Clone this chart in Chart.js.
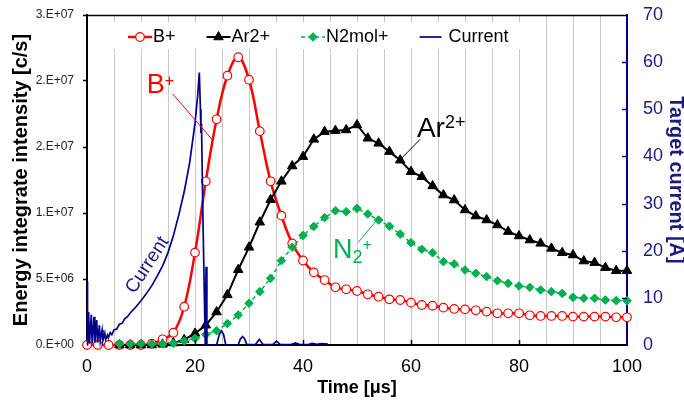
<!DOCTYPE html>
<html><head><meta charset="utf-8">
<script src="https://cdn.jsdelivr.net/npm/chart.js@4.4.1/dist/chart.umd.min.js"></script>
<style>html,body{margin:0;padding:0;background:#fff}canvas{display:block}</style>
</head><body>
<canvas id="c" width="684" height="401"></canvas>
<script>
// ---------- DATA ----------
const times = [0,2,4,6,8,10,12,14,16,18,20,22,24,26,28,30,32,34,36,38,40,42,44,46,48,50,52,54,56,58,60,62,64,66,68,70,72,74,76,78,80,82,84,86,88,90,92,94,96,98,100];
const bPlus = [0,0,0,0,0,0,0.1e6,0.43e6,0.93e6,2.9e6,7.0e6,12.4e6,17.1e6,20.4e6,21.8e6,20.1e6,16.2e6,12.4e6,9.8e6,7.7e6,6.4e6,5.5e6,4.92e6,4.37e6,4.22e6,4.09e6,3.84e6,3.66e6,3.46e6,3.41e6,3.21e6,3.03e6,2.98e6,2.83e6,2.73e6,2.70e6,2.63e6,2.53e6,2.4e6,2.4e6,2.4e6,2.25e6,2.2e6,2.2e6,2.2e6,2.15e6,2.15e6,2.15e6,2.15e6,2.1e6,2.1e6];
const ar2Plus = [null,null,null,0,0,0,0,0.05e6,0.15e6,0.4e6,0.88e6,1.5e6,2.5e6,3.8e6,5.7e6,7.4e6,9.3e6,11.0e6,12.4e6,13.56e6,14.27e6,15.58e6,16.16e6,16.24e6,16.29e6,16.67e6,15.66e6,15.28e6,14.65e6,14.0e6,13.13e6,12.75e6,12.05e6,11.36e6,10.98e6,10.23e6,9.77e6,9.47e6,9.09e6,8.59e6,8.26e6,7.95e6,7.7e6,7.32e6,6.99e6,6.82e6,6.36e6,6.24e6,5.86e6,5.63e6,5.63e6];
const n2molPlus = [null,null,null,0.08e6,0.08e6,0.08e6,0.08e6,0.08e6,0.13e6,0.3e6,0.5e6,0.8e6,1.08e6,1.62e6,2.27e6,3.16e6,4.04e6,5.05e6,6.39e6,7.4e6,8.3e6,8.98e6,9.65e6,10.17e6,10.1e6,10.35e6,9.92e6,9.47e6,9.0e6,8.4e6,7.75e6,7.25e6,6.99e6,6.31e6,6.14e6,5.68e6,5.43e6,5.18e6,4.87e6,4.67e6,4.47e6,4.37e6,4.17e6,4.04e6,3.91e6,3.61e6,3.54e6,3.54e6,3.41e6,3.36e6,3.36e6];
const currentTime = [0,0.05,0.15,0.3,0.45,0.8,0.95,1.3,1.45,1.8,1.95,2.3,2.45,2.8,2.95,3.3,3.45,3.8,3.95,4.3,4.6,5.0,5.5,6.0,6.5,7.0,7.5,8.0,9.0,10,11,12,13,14,15,16,17,18,19,20,20.5,20.8,21.0,21.1,21.2,21.5,21.9,22.05,22.2,22.4,24.0,24.5,24.9,25.3,25.7,28.0,28.4,28.8,29.2,29.6,31.2,31.9,32.6,34.4,35.1,35.8,37.8,38.6,39.4,41.0,41.7,42.5,43.5,44.6];
const currentAmp = [0,13.4,0.2,7.0,0.3,6.4,0.3,6.0,0.5,5.3,0.5,4.2,0.8,3.2,1.0,2.5,1.2,2.1,1.5,2.6,2.2,3.2,3.4,4.4,4.6,5.6,6.0,6.8,8.0,9.4,10.9,12.6,14.6,16.8,19.6,23.2,27.6,32.5,38.6,47.0,53.0,57.8,50.0,45.0,47.0,25.0,0,16.6,0.2,0,0,2.2,3.0,2.2,0,0,1.3,1.8,1.3,0.1,0.1,1.2,0.1,0.1,0.8,0.1,0.1,0.45,0.1,0.1,0.35,0.15,0.3,0.2];
const seriesNames = ['B+','Ar2+','N2mol+','Current'];
const xTickLabels = ['0','20','40','60','80','100'];
const leftTickLabels = ['0.E+00','5.E+06','1.E+07','2.E+07','2.E+07','3.E+07'];
const rightTickLabels = ['0','10','20','30','40','50','60','70'];

// ---------- STYLE / LAYOUT ----------
const FONT = '"Liberation Sans", Arial, sans-serif';
const NAVY = '#00008B';
const NAVY_TEXT = '#1a1a80';
const GREEN = '#00B050';
Chart.defaults.font.family = FONT;

const toXY = (xs, ys) => xs.map((x, i) => ({x: x, y: ys[i]}));
const zeroPad = s => { s.paddingTop = 0; s.paddingBottom = 0; s.paddingLeft = 0; s.paddingRight = 0; };

function drawMarker(ctx, ds, x, y) {
  const r = ds.pointRadius;
  ctx.beginPath();
  if (ds.pointStyle === 'circle') {
    ctx.arc(x, y, r, 0, Math.PI * 2);
  } else if (ds.pointStyle === 'triangle') {
    for (let k = 0; k < 3; k++) {
      const a = k * 2 * Math.PI / 3;
      const px = x + Math.sin(a) * r, py = y - Math.cos(a) * r;
      k ? ctx.lineTo(px, py) : ctx.moveTo(px, py);
    }
    ctx.closePath();
  } else if (ds.pointStyle === 'rectRot') {
    ctx.moveTo(x, y - r); ctx.lineTo(x + r, y); ctx.lineTo(x, y + r); ctx.lineTo(x - r, y); ctx.closePath();
  }
  ctx.fillStyle = ds.pointBackgroundColor;
  ctx.fill();
  ctx.lineWidth = ds.pointBorderWidth;
  ctx.strokeStyle = ds.pointBorderColor;
  ctx.stroke();
}

const LEGEND = {box: {x: 106, y: 22, w: 424, h: 27}, startX: 128, midY: 37, line: 24, gap: [1, 1, 1, 7], spacing: 31};

const ANNOT = {
  b: {x: 11.06, y: 19.09e6, line: [15.87, 19.02e6, 23.09, 15.6e6], color: '#FF0000'},
  ar: {x: 61.1, y: 15.76e6, line: [61.67, 15.58e6, 57.96, 14.02e6], color: '#000'},
  n: {x: 45.56, y: 6.59e6, line: [50.19, 7.75e6, 53.7, 9.47e6], color: GREEN},
  cur: {x: 11.2, y: 6.06e6, angle: -57}
};

const decor = {
  id: 'decor',
  beforeDatasetsDraw(chart) {
    const {ctx, chartArea: ca} = chart;
    ctx.save();
    ctx.strokeStyle = '#000'; ctx.lineWidth = 1.5;
    ctx.beginPath(); ctx.moveTo(ca.left, ca.top + 0.5); ctx.lineTo(ca.right, ca.top + 0.5); ctx.stroke();
    const b = LEGEND.box;
    ctx.fillStyle = '#fff';
    ctx.fillRect(b.x, b.y, b.w, b.h);
    let x = LEGEND.startX; const y = LEGEND.midY;
    ctx.font = '18px ' + FONT;
    ctx.textBaseline = 'middle';
    chart.data.datasets.forEach((ds, i) => {
      const L = i === 3 ? 22 : LEGEND.line;
      ctx.save();
      ctx.strokeStyle = ds.borderColor; ctx.lineWidth = ds.borderWidth;
      ctx.setLineDash(ds.borderDash || []);
      ctx.beginPath(); ctx.moveTo(x, y); ctx.lineTo(x + L, y); ctx.stroke();
      ctx.setLineDash([]);
      if (ds.pointRadius > 0) drawMarker(ctx, ds, x + L / 2, y);
      ctx.restore();
      ctx.fillStyle = '#000';
      ctx.textAlign = 'left';
      ctx.fillText(ds.label, x + L + LEGEND.gap[i], y);
      x += L + LEGEND.gap[i] + ctx.measureText(ds.label).width + LEGEND.spacing;
    });
    ctx.restore();
  },
  afterDatasetsDraw(chart) {
    const {ctx, scales} = chart;
    const X = v => scales.x.getPixelForValue(v);
    const Y = v => scales.y.getPixelForValue(v);
    ctx.save();
    ctx.textBaseline = 'alphabetic'; ctx.textAlign = 'left';
    for (const k of ['b', 'ar', 'n']) {
      const a = ANNOT[k];
      ctx.strokeStyle = a.color; ctx.lineWidth = 1;
      ctx.beginPath(); ctx.moveTo(X(a.line[0]), Y(a.line[1])); ctx.lineTo(X(a.line[2]), Y(a.line[3])); ctx.stroke();
    }
    let a = ANNOT.b, px = X(a.x), py = Y(a.y);
    ctx.fillStyle = a.color;
    ctx.font = '27px ' + FONT; ctx.fillText('B', px, py);
    let w = ctx.measureText('B').width;
    ctx.font = '16px ' + FONT; ctx.fillText('+', px + w, py - 7);
    a = ANNOT.ar; px = X(a.x); py = Y(a.y);
    ctx.fillStyle = a.color;
    ctx.font = '28px ' + FONT; ctx.fillText('Ar', px, py);
    w = ctx.measureText('Ar').width;
    ctx.font = '18px ' + FONT; ctx.fillText('2+', px + w, py - 9);
    a = ANNOT.n; px = X(a.x); py = Y(a.y);
    ctx.fillStyle = a.color;
    ctx.font = '27px ' + FONT; ctx.fillText('N', px, py);
    w = ctx.measureText('N').width;
    ctx.font = '18px ' + FONT; ctx.fillText('2', px + w, py + 5);
    const w2 = ctx.measureText('2').width;
    ctx.font = '16px ' + FONT; ctx.fillText('+', px + w + w2, py - 8);
    a = ANNOT.cur;
    ctx.save();
    ctx.translate(X(a.x), Y(a.y));
    ctx.rotate(a.angle * Math.PI / 180);
    ctx.fillStyle = NAVY_TEXT; ctx.textAlign = 'center'; ctx.textBaseline = 'middle';
    ctx.font = '19px ' + FONT;
    ctx.fillText('Current', 0, 0);
    ctx.restore();
    ctx.restore();
  },
  afterDraw(chart) {
    const {ctx, chartArea: ca, scales} = chart;
    ctx.save();
    ctx.strokeStyle = '#000'; ctx.lineWidth = 1.5;
    for (const v of [20, 40, 60, 80]) {
      const px = Math.round(scales.x.getPixelForValue(v)) + 0.5;
      ctx.beginPath(); ctx.moveTo(px, ca.bottom); ctx.lineTo(px, ca.bottom - 5); ctx.stroke();
    }
    ctx.strokeStyle = NAVY;
    for (let v = 10; v <= 60; v += 10) {
      const py = Math.round(scales.y2.getPixelForValue(v)) + 0.5;
      ctx.beginPath(); ctx.moveTo(ca.right, py); ctx.lineTo(ca.right - 5, py); ctx.stroke();
    }
    ctx.restore();
  }
};

new Chart(document.getElementById('c'), {
  type: 'line',
  data: {
    datasets: [
      {label: seriesNames[0], data: toXY(times, bPlus), yAxisID: 'y', order: 4,
       borderColor: '#FF0000', borderWidth: 2.5, tension: 0.4,
       pointStyle: 'circle', pointRadius: 4.3, pointBackgroundColor: '#fff', pointBorderColor: '#FF0000', pointBorderWidth: 1.2, clip: 5},
      {label: seriesNames[1], data: toXY(times, ar2Plus), yAxisID: 'y', order: 3,
       borderColor: '#000', borderWidth: 2, tension: 0,
       pointStyle: 'triangle', pointRadius: 5.5, pointBackgroundColor: '#000', pointBorderColor: '#000', pointBorderWidth: 1, clip: 8},
      {label: seriesNames[2], data: toXY(times, n2molPlus), yAxisID: 'y', order: 2,
       borderColor: GREEN, borderWidth: 1.5, borderDash: [4, 3], tension: 0,
       pointStyle: 'rectRot', pointRadius: 4.3, pointBackgroundColor: GREEN, pointBorderColor: GREEN, pointBorderWidth: 1, clip: 8},
      {label: seriesNames[3], data: toXY(currentTime, currentAmp), yAxisID: 'y2', order: 1,
       borderColor: NAVY, borderWidth: 1.7, tension: 0, pointRadius: 0, clip: 3}
    ]
  },
  options: {
    responsive: false, animation: false, devicePixelRatio: 1,
    layout: {padding: {top: 15, left: 0, right: 0, bottom: 0}},
    plugins: {legend: {display: false}, tooltip: {enabled: false}},
    scales: {
      x: {
        type: 'linear', min: 0, max: 100,
        afterFit: s => { s.height = 56; zeroPad(s); },
        ticks: {stepSize: 5, autoSkip: false, maxRotation: 0, padding: 11, color: '#000',
                font: {size: 18}, callback: v => (v % 20 === 0 ? xTickLabels[v / 20] : '')},
        grid: {display: true, drawTicks: false,
               color: c => (c.tick && (c.tick.value === 0 || c.tick.value === 100)) ? 'rgba(0,0,0,0)' : '#c8c8c8',
               lineWidth: 1},
        border: {display: true, color: '#000', width: 2},
        title: {display: true, text: 'Time [μs]', color: '#000', font: {size: 18, weight: 'bold'}, padding: {top: 0, bottom: 2}}
      },
      y: {
        type: 'linear', position: 'left', min: 0, max: 2.5e7,
        afterFit: s => { s.width = 87; zeroPad(s); },
        ticks: {stepSize: 5e6, padding: 9, color: '#222', font: {size: 12},
                callback: v => leftTickLabels[Math.round(v / 5e6)]},
        grid: {display: true, drawOnChartArea: false, drawTicks: true, tickLength: 4, tickColor: '#000', tickWidth: 1.5},
        border: {display: true, color: '#000', width: 2},
        title: {display: true, text: 'Energy integrate intensity [c/s]', color: '#000', font: {size: 20, weight: 'bold', lineHeight: 1}, padding: {top: 11.5, bottom: 0}}
      },
      y2: {
        type: 'linear', position: 'right', min: 0, max: 70,
        afterFit: s => { s.width = 57; zeroPad(s); },
        ticks: {stepSize: 10, padding: 16, color: NAVY_TEXT, font: {size: 18},
                callback: v => rightTickLabels[Math.round(v / 10)]},
        grid: {display: false, drawTicks: false},
        border: {display: true, color: NAVY, width: 2},
        title: {display: true, text: 'Target current [A]', color: NAVY_TEXT, font: {size: 20, weight: 'bold', lineHeight: 0.8}, padding: {top: 0, bottom: 0}}
      }
    }
  },
  plugins: [decor]
});
</script>
</body></html>
